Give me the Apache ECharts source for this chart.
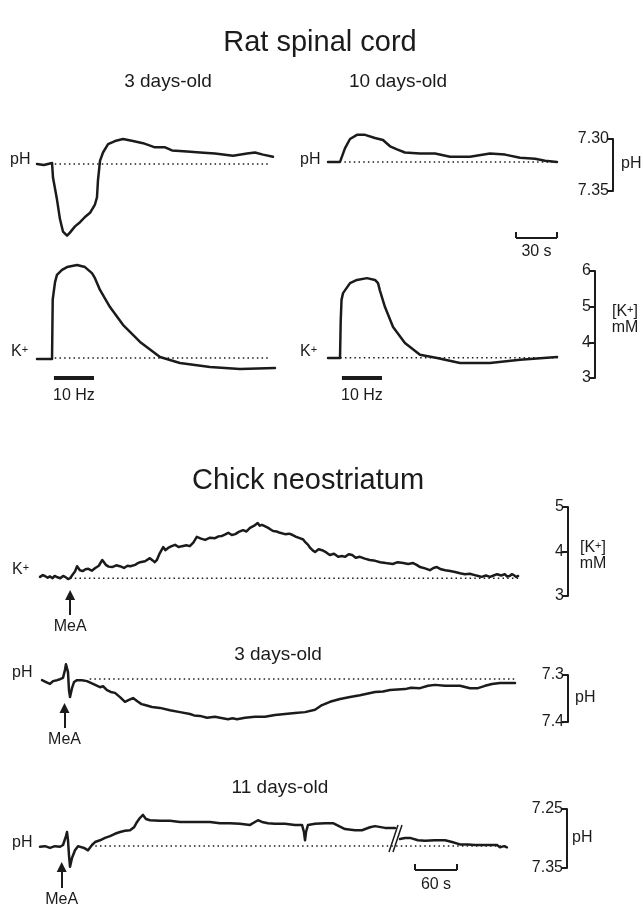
<!DOCTYPE html>
<html>
<head>
<meta charset="utf-8">
<title>Rat spinal cord / Chick neostriatum</title>
<script src="https://cdn.jsdelivr.net/npm/echarts@6/dist/echarts.min.js"></script>
<style>
  html, body { margin: 0; padding: 0; background: #fff; }
  #chart { width: 643px; height: 914px; }
</style>
</head>
<body>
<div id="chart"></div>
<script>
// traces, [time (s), value]
// rat spinal cord, 3 days-old
const ratPh3 = [[0,7.324],[5,7.325],[11,7.323],[11.7,7.337],[14.6,7.358],[16.8,7.377],[19,7.389],[22,7.393],[24.1,7.390],[27.8,7.384],[31.5,7.380],[35.1,7.375],[38.8,7.371],[42.4,7.363],[43.9,7.356],[44.6,7.340],[46.1,7.321],[48.3,7.313],[52,7.305],[57.1,7.302],[62.9,7.300],[70.2,7.302],[77.6,7.304],[86.3,7.308],[93.7,7.308],[98.8,7.311],[109.8,7.312],[119.3,7.313],[130.2,7.314],[143.4,7.316],[153.7,7.314],[159.5,7.313],[165.4,7.315],[172.7,7.317]];
const ratK3 = [[0,3.53],[11,3.53],[11.5,5.2],[13.2,5.69],[14.6,5.89],[18.3,6.03],[22,6.11],[29.3,6.17],[35.1,6.11],[40.2,5.94],[42.4,5.80],[46.1,5.47],[53.4,4.99],[62.9,4.49],[75.4,4.01],[90,3.59],[104.6,3.42],[126.6,3.31],[148.5,3.25],[174.1,3.28]];
// rat spinal cord, 10 days-old
const ratPh10 = [[0,7.322],[8.8,7.322],[12.4,7.309],[16.1,7.300],[21.2,7.296],[27.1,7.296],[34.4,7.299],[40.2,7.301],[45.4,7.307],[50.5,7.310],[56.3,7.313],[67.3,7.314],[78.3,7.314],[89.3,7.317],[103.9,7.317],[118.5,7.314],[129.5,7.315],[140.5,7.318],[151.5,7.319],[158.8,7.321],[167.6,7.322]];
const ratK10 = [[0,3.56],[8.8,3.56],[9.3,4.6],[9.9,5.19],[11,5.38],[16.1,5.66],[21.2,5.75],[28.5,5.80],[34.4,5.75],[36.6,5.66],[38,5.45],[41.7,4.99],[47.6,4.43],[56.3,3.98],[67.3,3.65],[79.8,3.56],[96.6,3.42],[118.5,3.42],[140.5,3.51],[167.6,3.59]];
// resting levels [from, to, value] and 10 Hz trains [from, to]
const ratPhRest = [[13, 169, 7.324], [12, 168, 7.322]];
const ratKRest = [[13, 171, 3.56], [9, 168, 3.57]];
const ratStim = [[12.4, 41.7], [10.2, 39.5]];

// chick neostriatum
const chickK = [[0,3.43],[4,3.47],[7,3.45],[11,3.41],[14,3.44],[18,3.40],[21,3.45],[25,3.42],[29,3.40],[33,3.45],[36,3.43],[40,3.38],[43,3.40],[47,3.49],[50,3.55],[53,3.67],[57,3.58],[61,3.56],[65,3.60],[69,3.61],[74,3.57],[79,3.63],[84,3.68],[89,3.81],[94,3.70],[98,3.66],[103,3.65],[109,3.69],[114,3.67],[120,3.63],[125,3.68],[129,3.67],[136,3.70],[140,3.74],[143,3.76],[150,3.78],[157,3.85],[161,3.80],[164,3.76],[167,3.81],[171,3.96],[176,4.10],[179,4.03],[183,4.08],[188,4.12],[193,4.15],[198,4.10],[203,4.12],[209,4.14],[214,4.12],[219,4.20],[224,4.33],[230,4.29],[236,4.26],[243,4.31],[250,4.30],[255,4.34],[260,4.35],[264,4.38],[269,4.42],[274,4.37],[279,4.39],[284,4.44],[290,4.48],[295,4.45],[300,4.53],[306,4.58],[311,4.64],[314,4.58],[317,4.60],[321,4.57],[326,4.53],[330,4.49],[333,4.46],[338,4.45],[343,4.42],[350,4.39],[356,4.40],[361,4.37],[366,4.33],[371,4.30],[376,4.27],[379,4.21],[383,4.15],[386,4.08],[390,4.02],[393,3.99],[398,4.05],[403,4.03],[409,3.98],[414,3.92],[420,3.95],[426,3.88],[431,3.90],[436,3.88],[441,3.94],[446,3.92],[451,3.86],[457,3.88],[464,3.84],[471,3.81],[479,3.79],[486,3.76],[494,3.74],[504,3.72],[511,3.76],[519,3.74],[526,3.72],[533,3.74],[538,3.70],[543,3.65],[550,3.62],[557,3.58],[562,3.63],[567,3.65],[573,3.60],[579,3.58],[586,3.56],[593,3.54],[600,3.51],[607,3.49],[614,3.50],[621,3.47],[626,3.45],[631,3.43],[637,3.46],[643,3.43],[648,3.46],[653,3.49],[659,3.46],[664,3.49],[667,3.44],[671,3.45],[674,3.49],[677,3.47],[680,3.43],[683,3.45]];
const chickPh3 = [[2.9,7.311],[8.6,7.315],[14.3,7.319],[18.6,7.313],[24.3,7.311],[28.6,7.309],[32.9,7.306],[35.7,7.289],[37.1,7.277],[38.6,7.275],[40,7.294],[41.4,7.332],[42.9,7.347],[44.3,7.349],[45.7,7.328],[48.6,7.315],[52.9,7.311],[60,7.311],[67.1,7.313],[75.7,7.319],[85.7,7.326],[90,7.324],[95.7,7.332],[101,7.336],[107.1,7.338],[114.3,7.347],[121.4,7.357],[127.1,7.353],[132.9,7.349],[140,7.357],[145,7.362],[150,7.364],[160,7.368],[171.4,7.370],[185.7,7.375],[200,7.379],[214.3,7.383],[220,7.386],[228.6,7.387],[238.6,7.391],[250,7.389],[257.1,7.391],[268.6,7.394],[275,7.392],[281.4,7.394],[292.9,7.391],[307.1,7.389],[321.4,7.389],[335.7,7.385],[350,7.383],[364.3,7.381],[378.6,7.379],[392.9,7.374],[402.9,7.364],[414.3,7.357],[428.6,7.351],[442.9,7.347],[457.1,7.343],[478.6,7.336],[490,7.335],[500,7.332],[521.4,7.330],[530,7.327],[542.9,7.328],[554.3,7.323],[564.3,7.321],[578.6,7.323],[592.9,7.323],[600,7.323],[614.3,7.328],[625.7,7.328],[635.7,7.323],[645.7,7.319],[657.1,7.317],[668.6,7.317],[678.6,7.317]];
const chickPh11 = [[0,7.314],[7.1,7.313],[14.3,7.316],[21.4,7.313],[28.6,7.314],[32.9,7.311],[37.1,7.296],[38.6,7.289],[40,7.303],[41.4,7.328],[42.9,7.348],[45.7,7.333],[50,7.320],[54.3,7.313],[57.1,7.311],[62.9,7.316],[68.6,7.320],[74.3,7.311],[78.6,7.306],[85.7,7.303],[92.9,7.299],[100,7.296],[107.1,7.292],[114.3,7.289],[121.4,7.287],[128.6,7.286],[134.3,7.281],[138.6,7.272],[142.9,7.265],[147.1,7.260],[151.4,7.267],[157.1,7.269],[171.4,7.270],[185.7,7.270],[200,7.272],[214.3,7.272],[228.6,7.272],[242.9,7.272],[257.1,7.274],[271.4,7.274],[285.7,7.275],[300,7.277],[307.1,7.272],[311.4,7.269],[317.1,7.272],[325.7,7.274],[335.7,7.275],[350,7.275],[364.3,7.277],[374.3,7.277],[377.1,7.289],[378.6,7.303],[380,7.289],[382.9,7.277],[392.9,7.275],[407.1,7.274],[418.6,7.274],[428.6,7.280],[435.7,7.284],[450,7.286],[460,7.286],[471.4,7.281],[478.6,7.279],[492.9,7.282],[507.1,7.282],[510,'-'],[514.3,7.301],[521.4,7.299],[528.6,7.299],[540,7.303],[550,7.304],[564.3,7.303],[578.6,7.303],[588.6,7.306],[600,7.310],[611.4,7.310],[621.4,7.311],[631.4,7.311],[642.9,7.311],[652.9,7.311],[657.1,7.315],[662.9,7.313],[667.1,7.315]];
const chickRest = [[43, 683, 3.40], [71, 679, 7.3085], [79, 667, 7.3127]];
const meaTime = [43, 35, 31];

// scale bar ticks
const ratPhTicks = [7.30, 7.35];
const ratKTicks = [3, 4, 5, 6];
const chickKTicks = [3, 4, 5];
const chickPh3Ticks = [7.3, 7.4];
const chickPh11Ticks = [7.25, 7.35];

const ink = '#1b1b1b';
const fam = '"Liberation Sans", Arial, Helvetica, sans-serif';
const chart = echarts.init(document.getElementById('chart'), null, { renderer: 'canvas' });

// where each value scale sits on the page (value v0 at pixel p0, v1 at p1)
const ratPhScale = { v0: 7.30, p0: 139, v1: 7.35, p1: 191 };
const ratKScale = { v0: 6, p0: 271, v1: 3, p1: 378 };
const chickKScale = { v0: 5, p0: 507, v1: 3, p1: 596 };
const chickPh3Scale = { v0: 7.3, p0: 675, v1: 7.4, p1: 722 };
const chickPh11Scale = { v0: 7.25, p0: 809, v1: 7.35, p1: 868 };
const ratPps = 41 / 30;   // px per second
const chickPps = 42 / 60;

const grid = [], xAxis = [], yAxis = [], series = [];

function yFit(sc, vTop, vBot) {
  const k = (sc.p1 - sc.p0) / (sc.v1 - sc.v0);
  return {
    top: sc.p0 + (vTop - sc.v0) * k,
    height: (vBot - vTop) * k,
    min: Math.min(vTop, vBot),
    max: Math.max(vTop, vBot),
    inverse: vTop < vBot
  };
}

function panel(left, pps, tMax, sc, vTop, vBot) {
  const f = yFit(sc, vTop, vBot);
  const i = grid.length;
  grid.push({ left: left, top: f.top, width: tMax * pps, height: f.height });
  xAxis.push({ gridIndex: i, type: 'value', min: 0, max: tMax, show: false });
  yAxis.push({ gridIndex: i, type: 'value', min: f.min, max: f.max, inverse: f.inverse, show: false });
  return i;
}

function trace(i, data) {
  series.push({
    type: 'line', xAxisIndex: i, yAxisIndex: i, data: data,
    symbol: 'none', clip: false, silent: true,
    lineStyle: { color: ink, width: 2.5, join: 'round', cap: 'round' }
  });
}

function rest(i, r, extra) {
  series.push(Object.assign({
    type: 'line', xAxisIndex: i, yAxisIndex: i,
    data: [[r[0], r[2]], [r[1], r[2]]],
    symbol: 'none', clip: false, silent: true,
    lineStyle: { color: ink, width: 1.5, type: [1.5, 3.2] }
  }, extra || {}));
}

function arrow(t, vTail, vTip) {
  return {
    silent: true, animation: false,
    symbol: ['none', 'triangle'], symbolSize: 10,
    lineStyle: { color: ink, width: 2, type: 'solid' },
    itemStyle: { color: ink },
    label: { show: true, position: 'start', formatter: 'MeA', color: ink, fontSize: 16, fontFamily: fam, distance: 4 },
    emphasis: { disabled: true },
    data: [[{ coord: [t, vTail] }, { coord: [t, vTip] }]]
  };
}

function bracket(x, sc, ticks, digits) {
  const lo = Math.min.apply(null, ticks), hi = Math.max.apply(null, ticks);
  const down = (sc.p1 - sc.p0) / (sc.v1 - sc.v0) > 0;
  const f = yFit(sc, down ? lo : hi, down ? hi : lo);
  const i = grid.length;
  grid.push({ left: x, top: f.top, width: 1, height: f.height });
  xAxis.push({ gridIndex: i, type: 'value', min: 0, max: 1, show: false });
  yAxis.push({
    gridIndex: i, type: 'value', position: 'left', min: lo, max: hi, inverse: down,
    axisLine: { show: true, onZero: false, lineStyle: { color: ink, width: 2 } },
    axisTick: { show: true, length: 6, customValues: ticks, lineStyle: { color: ink, width: 2 } },
    axisLabel: { show: true, customValues: ticks, margin: 4, color: ink, fontSize: 16, fontFamily: fam,
      formatter: function (v) { return v.toFixed(digits); } },
    splitLine: { show: false }
  });
}

function timeBar(left, y, pps, dur, name, lineW, ticks, gap) {
  const i = grid.length;
  grid.push({ left: left, top: y - 1, width: dur * pps, height: 1 });
  xAxis.push({
    gridIndex: i, type: 'value', min: 0, max: dur, position: 'bottom',
    axisLine: { show: true, onZero: false, lineStyle: { color: ink, width: lineW, cap: 'butt' } },
    axisTick: ticks ? { show: true, inside: true, length: 6, customValues: [0, dur], lineStyle: { color: ink, width: 2 } } : { show: false },
    axisLabel: { show: false }, splitLine: { show: false },
    name: name, nameLocation: 'middle', nameGap: gap,
    nameTextStyle: { color: ink, fontSize: 16, fontFamily: fam }
  });
  yAxis.push({ gridIndex: i, type: 'value', min: 0, max: 1, show: false });
}

// rat spinal cord
const ratLeft = [37, 328];
const gPh3 = panel(ratLeft[0], ratPps, 175, ratPhScale, 7.28, 7.40);
const gPh10 = panel(ratLeft[1], ratPps, 175, ratPhScale, 7.28, 7.40);
const gK3 = panel(ratLeft[0], ratPps, 175, ratKScale, 6.4, 2.9);
const gK10 = panel(ratLeft[1], ratPps, 175, ratKScale, 6.4, 2.9);
rest(gPh3, ratPhRest[0]); trace(gPh3, ratPh3);
rest(gPh10, ratPhRest[1]); trace(gPh10, ratPh10);
rest(gK3, ratKRest[0]); trace(gK3, ratK3);
rest(gK10, ratKRest[1]); trace(gK10, ratK10);
ratStim.forEach(function (s, j) {
  timeBar(ratLeft[j] + s[0] * ratPps, 378, ratPps, s[1] - s[0], '10 Hz', 4, false, 10);
});
timeBar(516, 238, ratPps, 30, '30 s', 2, true, 6);
bracket(613, ratPhScale, ratPhTicks, 2);
bracket(595, ratKScale, ratKTicks, 0);

// chick neostriatum
const gCK = panel(40, chickPps, 690, chickKScale, 5.0, 2.4);
const gCP3 = panel(40, chickPps, 690, chickPh3Scale, 7.26, 7.43);
const gCP11 = panel(40, chickPps, 690, chickPh11Scale, 7.24, 7.40);
rest(gCK, chickRest[0], { markLine: arrow(meaTime[0], 2.573, 3.02) }); trace(gCK, chickK);
rest(gCP3, chickRest[1], { markLine: arrow(meaTime[1], 7.4128, 7.370) }); trace(gCP3, chickPh3);
rest(gCP11, chickRest[2], { markLine: arrow(meaTime[2], 7.3839, 7.3483) }); trace(gCP11, chickPh11);
timeBar(415, 870, chickPps, 60, '60 s', 2, true, 7);
bracket(568, chickKScale, chickKTicks, 0);
bracket(568, chickPh3Scale, chickPh3Ticks, 1);
bracket(567, chickPh11Scale, chickPh11Ticks, 2);

function label(x, y, text, align) {
  return { type: 'text', x: x, y: y, silent: true,
    style: { text: text, fill: ink, fontSize: 16, fontFamily: fam, align: align || 'left', verticalAlign: 'middle' } };
}
function kLabel(x, y, text, align) {
  return { type: 'text', x: x, y: y, silent: true,
    style: { text: text, fill: ink, fontSize: 16, fontFamily: fam, align: align || 'left', verticalAlign: 'middle',
      rich: { k: { fontSize: 16, fontFamily: fam, fill: ink }, s: { fontSize: 11, fontFamily: fam, fill: ink, verticalAlign: 'top' } } } };
}
function title(text, x, y, size) {
  return { text: text, left: x, top: y, textAlign: 'center', padding: 0,
    textStyle: { fontSize: size, fontWeight: 'normal', color: ink, fontFamily: fam } };
}

chart.setOption({
  animation: false,
  backgroundColor: '#fff',
  title: [
    title('Rat spinal cord', 320, 28, 29),
    title('3 days-old', 168, 72, 19),
    title('10 days-old', 398, 72, 19),
    title('Chick neostriatum', 308, 466, 29),
    title('3 days-old', 278, 645, 19),
    title('11 days-old', 280, 778, 19)
  ],
  grid: grid,
  xAxis: xAxis,
  yAxis: yAxis,
  series: series,
  graphic: [
    label(10, 160, 'pH'), label(300, 160, 'pH'),
    kLabel(11, 352, '{k|K}{s|+}'), kLabel(300, 352, '{k|K}{s|+}'),
    label(621, 164, 'pH'),
    kLabel(625, 320, '{k|[K}{s|+}{k|]}\n{k|mM}', 'center'),
    kLabel(12, 570, '{k|K}{s|+}'),
    kLabel(593, 556, '{k|[K}{s|+}{k|]}\n{k|mM}', 'center'),
    label(12, 673, 'pH'), label(575, 698, 'pH'),
    label(12, 843, 'pH'), label(572, 838, 'pH'),
    { type: 'line', silent: true, shape: { x1: 389, y1: 852, x2: 398, y2: 825 }, style: { stroke: ink, lineWidth: 1.5 } },
    { type: 'line', silent: true, shape: { x1: 393, y1: 852, x2: 402, y2: 825 }, style: { stroke: ink, lineWidth: 1.5 } }
  ]
});
window.onresize = function () { chart.resize(); };
</script>
</body>
</html>
